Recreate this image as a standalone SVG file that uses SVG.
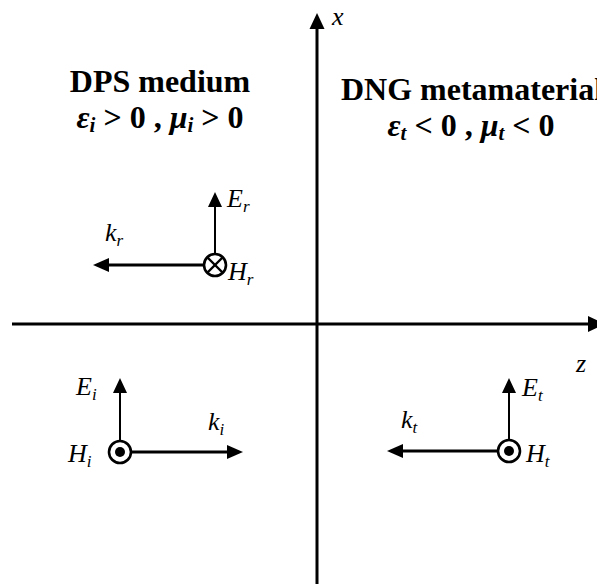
<svg xmlns="http://www.w3.org/2000/svg" width="597" height="584" viewBox="0 0 597 584">
<style>
  text { font-family: "Liberation Serif", "Times New Roman", serif; fill: #000; }
  .title { font-size: 32px; font-weight: bold; text-anchor: middle; }
  .gr { font-style: italic; }
  .tsub { font-size: 21px; font-style: italic; }
  .lab { font-size: 26px; font-style: italic; }
  .sub { font-size: 17px; font-style: italic; }
  .axis { stroke: #000; stroke-width: 3; fill: none; }
  .e { stroke: #000; stroke-width: 2; fill: none; }
  .k { stroke: #000; stroke-width: 3.2; fill: none; }
  .ring { stroke: #000; stroke-width: 2.6; fill: #fff; }
  .head { fill: #000; stroke: none; }
</style>
<rect width="597" height="584" fill="#fff"/>
<g id="axes">
  <line class="axis" x1="317" y1="584" x2="317" y2="27"/>
  <polygon class="head" points="317,13 309.5,29 324.5,29"/>
  <line class="axis" x1="12" y1="324" x2="590" y2="324"/>
  <polygon class="head" points="605,324 588,316 588,332"/>
  <text class="lab" x="332" y="25">x</text>
  <text class="lab" x="576" y="372">z</text>
</g>
<g id="labels">
  <text class="title" x="160" y="92">DPS medium</text>
  <text class="title" x="160" y="128"><tspan class="gr">ε</tspan><tspan class="tsub" dy="4">i</tspan><tspan dy="-4"> &gt; 0 , </tspan><tspan class="gr">μ</tspan><tspan class="tsub" dy="4">i</tspan><tspan dy="-4"> &gt; 0</tspan></text>
  <text class="title" x="472" y="100">DNG metamaterial</text>
  <text class="title" x="471" y="136"><tspan class="gr">ε</tspan><tspan class="tsub" dy="4">t</tspan><tspan dy="-4"> &lt; 0 , </tspan><tspan class="gr">μ</tspan><tspan class="tsub" dy="4">t</tspan><tspan dy="-4"> &lt; 0</tspan></text>
</g>
<g id="connectors">
  <line class="e" x1="215" y1="254" x2="215" y2="205"/>
  <polygon class="head" points="215,192 208,207 222,207"/>
  <line class="k" x1="204" y1="265" x2="106" y2="265"/>
  <polygon class="head" points="93,265 109,258 109,272"/>
  <line class="e" x1="120" y1="440" x2="120" y2="391"/>
  <polygon class="head" points="120,378 113,393 127,393"/>
  <line class="k" x1="131" y1="452" x2="229" y2="452"/>
  <polygon class="head" points="243,452 227,445 227,459"/>
  <line class="e" x1="509" y1="439" x2="509" y2="391"/>
  <polygon class="head" points="509,378 502,393 516,393"/>
  <line class="k" x1="498" y1="451" x2="400" y2="451"/>
  <polygon class="head" points="387,451 403,444 403,458"/>
</g>
<g id="node-reflected">
  <circle class="ring" cx="215" cy="265" r="11"/>
  <line x1="207.5" y1="257.5" x2="222.5" y2="272.5" stroke="#000" stroke-width="2.4"/>
  <line x1="222.5" y1="257.5" x2="207.5" y2="272.5" stroke="#000" stroke-width="2.4"/>
  <text class="lab" x="227" y="207">E<tspan class="sub" dy="5">r</tspan></text>
  <text class="lab" x="105" y="241">k<tspan class="sub" dy="5">r</tspan></text>
  <text class="lab" x="228" y="280">H<tspan class="sub" dy="5">r</tspan></text>
</g>
<g id="node-incident">
  <circle class="ring" cx="120" cy="452" r="11"/>
  <circle cx="120" cy="452" r="5" fill="#000"/>
  <text class="lab" x="76" y="395">E<tspan class="sub" dy="5">i</tspan></text>
  <text class="lab" x="208" y="430">k<tspan class="sub" dy="5">i</tspan></text>
  <text class="lab" x="68" y="462">H<tspan class="sub" dy="5">i</tspan></text>
</g>
<g id="node-transmitted">
  <circle class="ring" cx="509" cy="451" r="11"/>
  <circle cx="509" cy="451" r="5" fill="#000"/>
  <text class="lab" x="522" y="396">E<tspan class="sub" dy="5">t</tspan></text>
  <text class="lab" x="401" y="428">k<tspan class="sub" dy="5">t</tspan></text>
  <text class="lab" x="526" y="462">H<tspan class="sub" dy="5">t</tspan></text>
</g>
</svg>
